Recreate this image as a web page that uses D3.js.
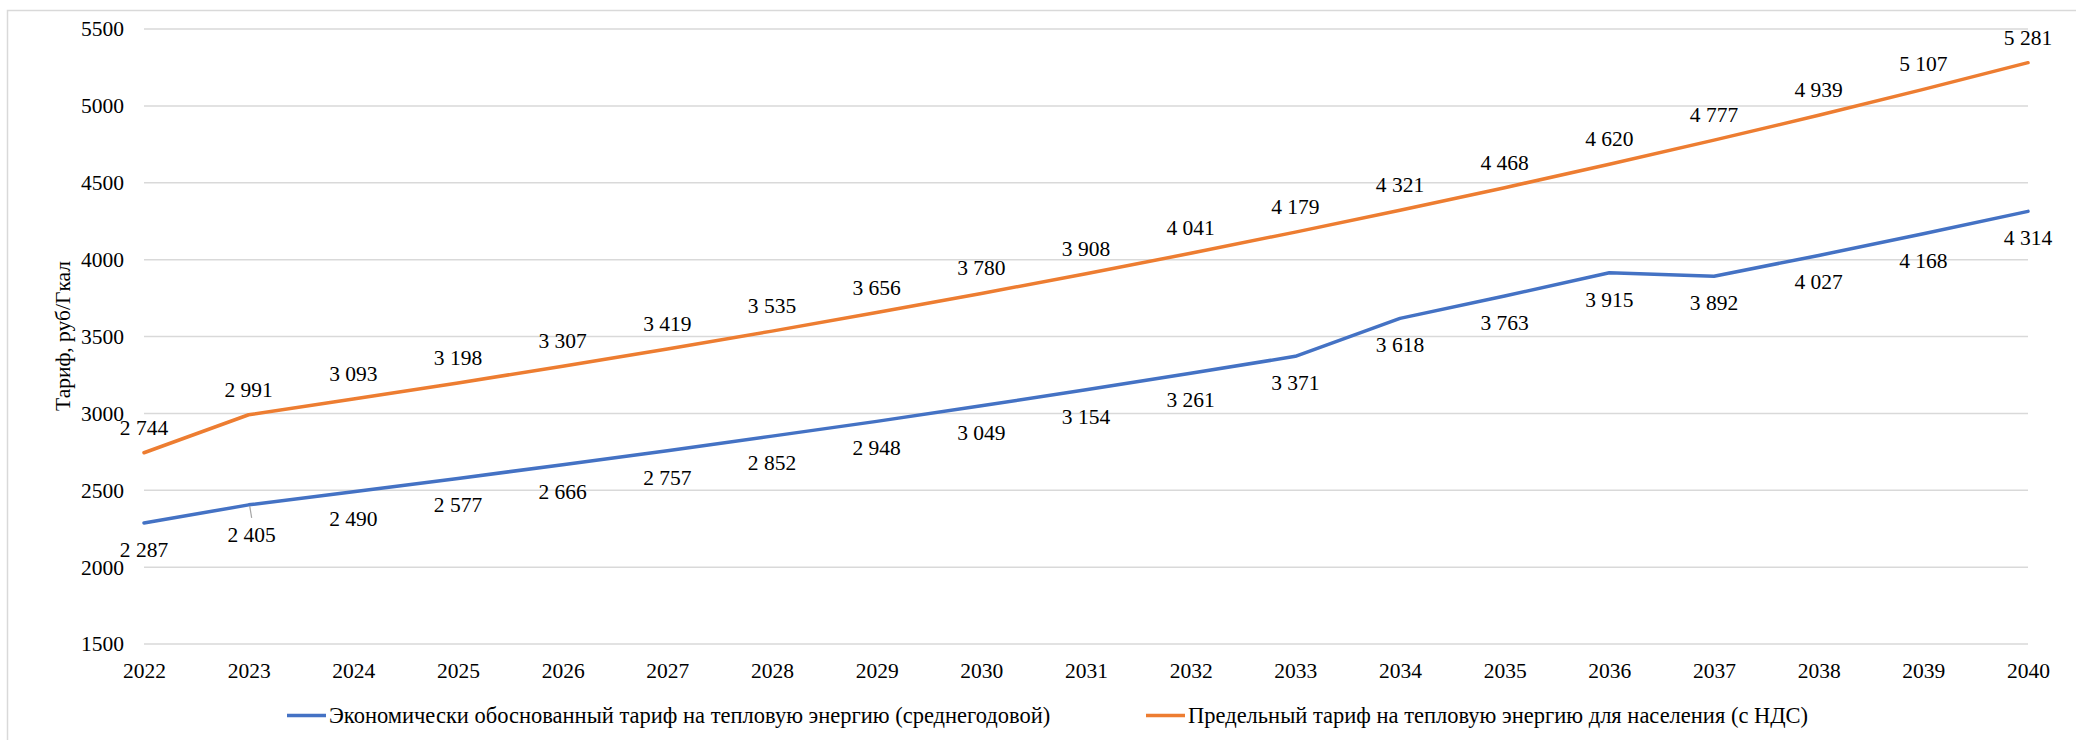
<!DOCTYPE html>
<html>
<head>
<meta charset="utf-8">
<script src="https://cdn.jsdelivr.net/npm/d3@7"></script>
<style>
  html, body { margin: 0; padding: 0; background: #fff; }
  svg text { fill: #000; }
</style>
</head>
<body>
<svg id="chart" width="2076" height="740"></svg>
<script>
const years = [2022, 2023, 2024, 2025, 2026, 2027, 2028, 2029, 2030, 2031, 2032, 2033, 2034, 2035, 2036, 2037, 2038, 2039, 2040];
const economicTariff = [2287, 2405, 2490, 2577, 2666, 2757, 2852, 2948, 3049, 3154, 3261, 3371, 3618, 3763, 3915, 3892, 4027, 4168, 4314];
const limitTariff = [2744, 2991, 3093, 3198, 3307, 3419, 3535, 3656, 3780, 3908, 4041, 4179, 4321, 4468, 4620, 4777, 4939, 5107, 5281];
const yTicks = [1500, 2000, 2500, 3000, 3500, 4000, 4500, 5000, 5500];
const seriesNames = [
  "Экономически обоснованный тариф на тепловую энергию (среднегодовой)",
  "Предельный тариф на тепловую энергию для населения (с НДС)"
];
const yTitle = "Тариф, руб/Гкал";

const svg = d3.select("#chart");
const FS = 21.5;
const SERIF = "'Liberation Serif', 'Times New Roman', Times, serif";

// outer frame
svg.append("rect").attr("x", 7.5).attr("y", 10.5).attr("width", 2080).attr("height", 740)
  .attr("fill", "none").attr("stroke", "#d9d9d9").attr("stroke-width", 1.5);

const x = d3.scalePoint().domain(years).range([144, 2028]);
const y = d3.scaleLinear().domain([1500, 5500]).range([644, 29]);

// gridlines
svg.append("g").selectAll("line").data(yTicks).join("line")
  .attr("x1", 144).attr("x2", 2028)
  .attr("y1", d => y(d)).attr("y2", d => y(d))
  .attr("stroke", "#d9d9d9").attr("stroke-width", 1.5);

// y axis (labels only)
const yAxis = d3.axisLeft(y).tickValues(yTicks).tickFormat(d3.format("d")).tickSize(0).tickPadding(0);
const gy = svg.append("g").attr("transform", "translate(124,0)").call(yAxis)
  .attr("font-family", SERIF).attr("font-size", FS);
gy.select(".domain").remove();
gy.selectAll("text").attr("fill", "#000");

// x axis (labels only)
const xAxis = d3.axisBottom(x).tickFormat(d3.format("d")).tickSize(0).tickPadding(0);
const gx = svg.append("g").attr("transform", "translate(0,670)").call(xAxis)
  .attr("font-family", SERIF).attr("font-size", FS);
gx.select(".domain").remove();
gx.selectAll("text").attr("fill", "#000").attr("dy", "0.35em");

const root = svg.append("g").attr("font-family", SERIF).attr("font-size", FS);

// y title
root.append("text").attr("transform", "translate(63,336) rotate(-90)")
  .attr("text-anchor", "middle").attr("dominant-baseline", "central")
  .text(yTitle);

const line = d3.line().x((d, i) => x(years[i])).y(d => y(d));
const colors = ["#4472C4", "#ED7D31"];
const series = [economicTariff, limitTariff];

series.forEach((s, k) => {
  svg.append("path").datum(s).attr("d", line)
    .attr("fill", "none").attr("stroke", colors[k]).attr("stroke-width", 3.5)
    .attr("stroke-linejoin", "round").attr("stroke-linecap", "round");
});

const fmt = v => d3.format(",")(v).replace(/,/g, " ");

// leader line for 2023 blue label
svg.append("line")
  .attr("x1", x(years[1]) + 1).attr("y1", y(economicTariff[1]) + 1)
  .attr("x2", x(years[1]) + 3).attr("y2", y(economicTariff[1]) + 13)
  .attr("stroke", "#a6a6a6").attr("stroke-width", 1.2);

// data labels
root.append("g").selectAll("text").data(economicTariff).join("text")
  .attr("x", (d, i) => x(years[i]) + (i === 1 ? 3 : 0))
  .attr("y", (d, i) => y(d) + (i === 1 ? 30 : 27))
  .attr("text-anchor", "middle").attr("dominant-baseline", "central")
  .text(fmt);

root.append("g").selectAll("text").data(limitTariff).join("text")
  .attr("x", (d, i) => x(years[i]))
  .attr("y", d => y(d) - 25)
  .attr("text-anchor", "middle").attr("dominant-baseline", "central")
  .text(fmt);

// legend
const legend = [
  { x1: 287, x2: 326, tx: 329 },
  { x1: 1146, x2: 1185, tx: 1188 }
];
legend.forEach((L, k) => {
  svg.append("line").attr("x1", L.x1).attr("x2", L.x2).attr("y1", 715.5).attr("y2", 715.5)
    .attr("stroke", colors[k]).attr("stroke-width", 3.5);
  root.append("text").attr("x", L.tx).attr("y", 715).attr("dominant-baseline", "central")
    .attr("font-size", 22.5)
    .text(seriesNames[k]);
});
</script>
</body>
</html>
